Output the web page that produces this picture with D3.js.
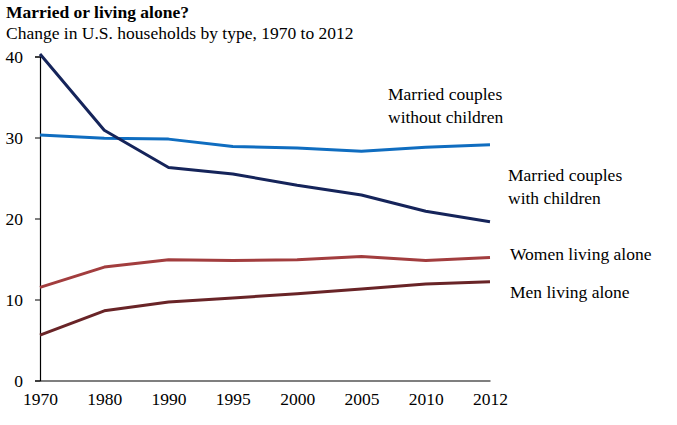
<!DOCTYPE html>
<html>
<head>
<meta charset="utf-8">
<script src="https://cdn.jsdelivr.net/npm/d3@7"></script>
<style>
  body { margin: 0; background: #fff; }
  svg text { font-family: "Liberation Serif", "Times New Roman", serif; fill: #000; }
</style>
</head>
<body>
<svg id="chart" width="677" height="425"></svg>
<script>
// chart data
var years = ['1970', '1980', '1990', '1995', '2000', '2005', '2010', '2012'];
var marriedNoKids = [30.3, 29.9, 29.8, 28.9, 28.7, 28.3, 28.8, 29.1];
var marriedKids = [40.3, 30.9, 26.3, 25.5, 24.1, 22.9, 20.9, 19.6];
var womenAlone = [11.5, 14.0, 14.9, 14.8, 14.9, 15.3, 14.8, 15.2];
var menAlone = [5.6, 8.6, 9.7, 10.2, 10.7, 11.3, 11.9, 12.2];
var yTicks = [0, 10, 20, 30, 40];

var series = [
	{ name: ['Married couples', 'without children'], values: marriedNoKids, color: '#0f6dc0', lx: 388, ly: 100 },
	{ name: ['Married couples', 'with children'], values: marriedKids, color: '#15245a', lx: 508, ly: 181 },
	{ name: ['Women living alone'], values: womenAlone, color: '#a23d3e', lx: 510, ly: 260 },
	{ name: ['Men living alone'], values: menAlone, color: '#692427', lx: 510, ly: 298 }
];

var fs = '17.5px';
var svg = d3.select('#chart');

var x = d3.scalePoint().domain(years).range([40, 490]);
var y = d3.scaleLinear().domain([0, 40]).range([380.5, 56.5]);

// titles
svg.append('text')
	.attr('x', 6).attr('y', 18)
	.style('font-size', fs).style('font-weight', 'bold')
	.text('Married or living alone?');
svg.append('text')
	.attr('x', 6).attr('y', 39)
	.style('font-size', fs)
	.text('Change in U.S. households by type, 1970 to 2012');

// axes
var yAxis = svg.append('g')
	.attr('transform', 'translate(40,0)')
	.call(d3.axisLeft(y).tickValues(yTicks).tickSize(5).tickPadding(12));
yAxis.selectAll('text').style('font-size', fs).attr('dy', '0.35em');

var xAxis = svg.append('g')
	.attr('transform', 'translate(0,' + y(0) + ')')
	.call(d3.axisBottom(x).tickSize(0).tickPadding(12));
xAxis.selectAll('text').style('font-size', fs);

svg.selectAll('.domain').attr('stroke', '#000').attr('stroke-width', 1.2);
svg.selectAll('.tick line').attr('stroke', '#000');

// lines
var line = d3.line()
	.x(function(d, i) { return x(years[i]); })
	.y(function(d) { return y(d); });

series.forEach(function(s) {
	svg.append('path')
		.datum(s.values)
		.attr('d', line)
		.attr('fill', 'none')
		.attr('stroke', s.color)
		.attr('stroke-width', 3)
		.attr('stroke-linejoin', 'round');

	var lbl = svg.append('text')
		.attr('x', s.lx).attr('y', s.ly)
		.style('font-size', fs);
	s.name.forEach(function(t, i) {
		lbl.append('tspan')
			.attr('x', s.lx)
			.attr('dy', i == 0 ? 0 : 23)
			.text(t);
	});
});
</script>
</body>
</html>
